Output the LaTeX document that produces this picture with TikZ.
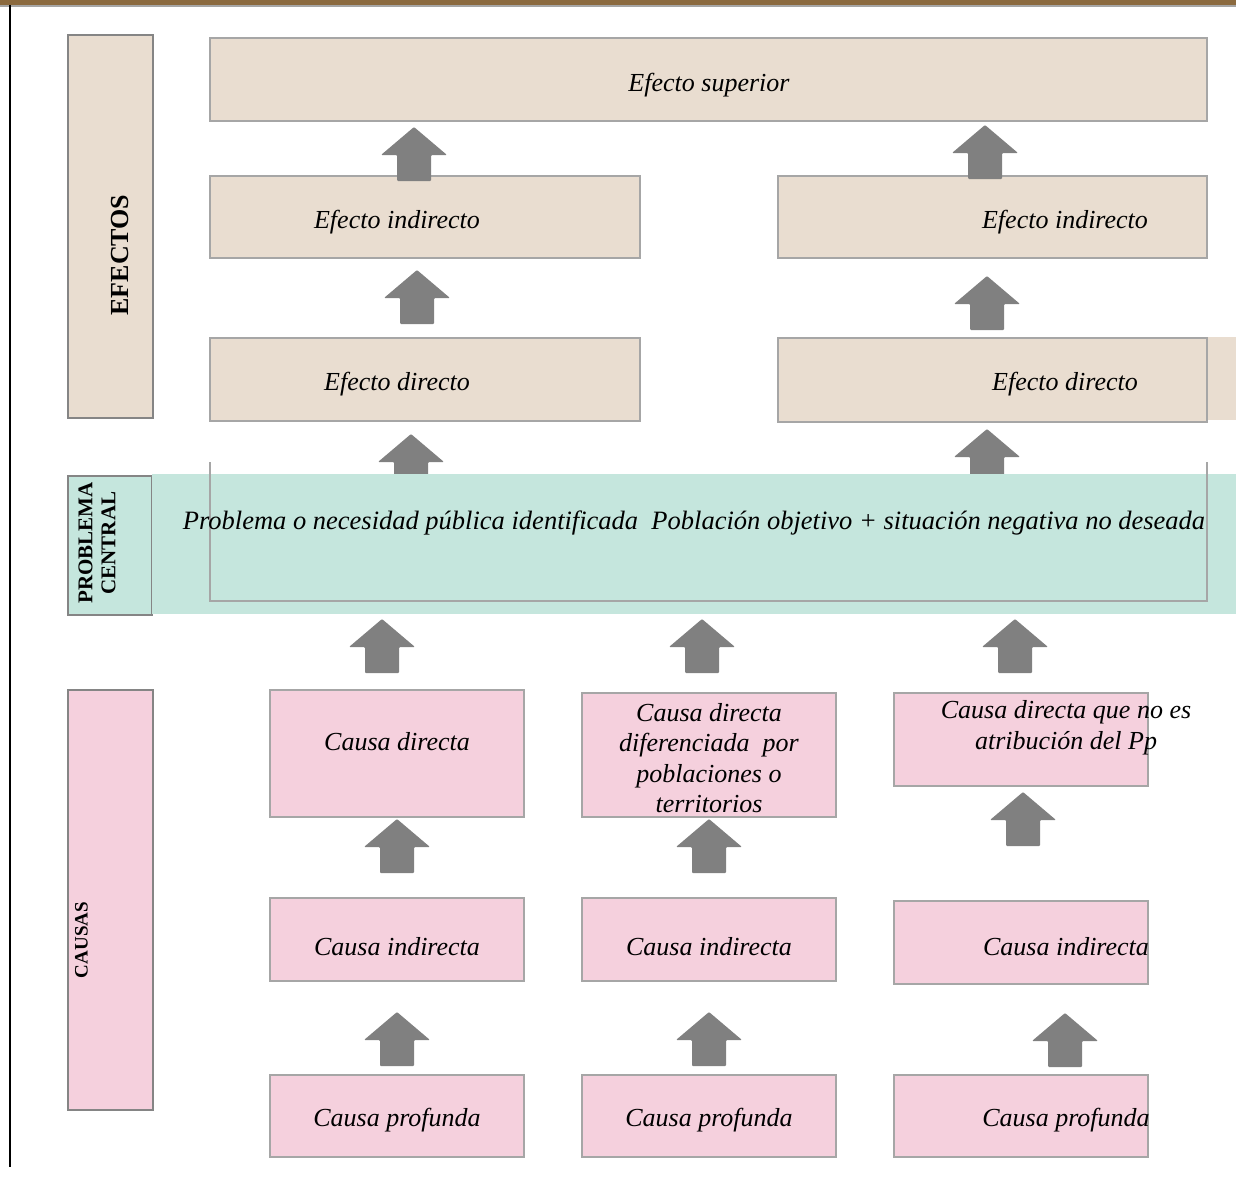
\documentclass[tikz,border=0pt]{standalone}
\usepackage{fontspec}
\setmainfont{Liberation Serif}

\definecolor{effcol}{RGB}{233,221,208}
\definecolor{probcol}{RGB}{197,230,221}
\definecolor{causecol}{RGB}{245,208,221}
\definecolor{edgegray}{RGB}{166,166,166}
\definecolor{arrowgray}{RGB}{128,128,128}
\definecolor{topbrown}{RGB}{139,106,63}

\tikzset{
    effbox/.style={draw=edgegray,line width=0.75pt,fill=effcol},
    causebox/.style={draw=edgegray,line width=0.75pt,fill=causecol},
    sidebox/.style={draw=edgegray!80!black,line width=0.75pt},
    boxtext/.style={font=\fontsize{13}{15.25}\selectfont\itshape,align=center,inner sep=0pt,yshift=-1pt},
    sidetext/.style={font=\bfseries,rotate=90,align=center,inner sep=0pt},
    uparrow/.pic={
        \fill[arrowgray,rounded corners=0.5pt]
            (0,0) -- (33,28) -- (17,28) -- (17,54) -- (-17,54) -- (-17,28) -- (-33,28) -- cycle;
    }
}

\begin{document}
\begin{tikzpicture}[x=0.5pt,y=-0.5pt]
            \useasboundingbox (0,0) rectangle (1236,1177);

            \fill[topbrown] (0,0) rectangle (1236,5.5);
            \fill[black!35] (0,5.5) rectangle (1236,7.5);
            \draw[line width=1pt] (10,5) -- (10,1167);

            % left column labels
            \draw[sidebox,fill=effcol] (68,35) rectangle (153,418);
            \draw[sidebox,fill=probcol] (68,476) rectangle (152,615);
            \draw[sidebox,fill=causecol] (68,690) rectangle (153,1110);

            \node[sidetext,font=\fontsize{13}{15}\selectfont\bfseries] (lefectos) at (120,255) {EFECTOS};
            \node[sidetext,font=\fontsize{10.5}{11.5}\selectfont\bfseries] (lproblema) at (97,543) {PROBLEMA\\CENTRAL};
            \node[sidetext,font=\fontsize{9.5}{11}\selectfont\bfseries] (lcausas) at (81.5,940) {CAUSAS};

            % effects
            \draw[effbox]
                (210,38) rectangle (1207,121)
                (210,176) rectangle (640,258)
                (778,176) rectangle (1207,258)
                (210,338) rectangle (640,421);
            \fill[effcol] (1207,337) rectangle (1236,420);
            \draw[effbox] (778,338) rectangle (1207,422);

            \node[boxtext] (esup) at (709,83) {Efecto superior};
            \node[boxtext] (eind1) at (397,220) {Efecto indirecto};
            \node[boxtext] (eind2) at (1065,220) {Efecto indirecto};
            \node[boxtext] (edir1) at (397,382) {Efecto directo};
            \node[boxtext] (edir2) at (1065,382) {Efecto directo};

            % causes
            \draw[causebox]
                (270,690) rectangle (524,817)
                (582,693) rectangle (836,817)
                (894,693) rectangle (1148,786)
                (270,898) rectangle (524,981)
                (582,898) rectangle (836,981)
                (894,901) rectangle (1148,984)
                (270,1075) rectangle (524,1157)
                (582,1075) rectangle (836,1157)
                (894,1075) rectangle (1148,1157);

            \node[boxtext] (cdir1) at (397,740) {Causa directa};
            \node[boxtext] (cdir2) at (709,756) {Causa directa\\diferenciada\ \ por\\poblaciones o\\territorios};
            \node[boxtext] (cdir3) at (1066,725.5) {Causa directa que no es\\atribución del Pp};
            \node[boxtext] (cind1) at (397,945) {Causa indirecta};
            \node[boxtext] (cind2) at (709,945) {Causa indirecta};
            \node[boxtext] (cind3) at (1066,945) {Causa indirecta};
            \node[boxtext] (cpro1) at (397,1118) {Causa profunda};
            \node[boxtext] (cpro2) at (709,1118) {Causa profunda};
            \node[boxtext] (cpro3) at (1066,1118) {Causa profunda};

            % block arrows
            \pic at (414,127) {uparrow};
            \pic at (985,125) {uparrow};
            \pic at (417,270) {uparrow};
            \pic at (987,276) {uparrow};
            \pic at (411,434) {uparrow};
            \pic at (987,429) {uparrow};
            \pic at (382,619) {uparrow};
            \pic at (702,619) {uparrow};
            \pic at (1015,619) {uparrow};
            \pic at (397,819) {uparrow};
            \pic at (709,819) {uparrow};
            \pic at (1023,792) {uparrow};
            \pic at (397,1012) {uparrow};
            \pic at (709,1012) {uparrow};
            \pic at (1065,1013) {uparrow};

            % central problem band
            \fill[probcol] (152,474) rectangle (1236,614);
            \draw[edgegray,line width=0.75pt]
                (210,462) -- (210,601) -- (1207,601) -- (1207,462);

            \node[boxtext,font=\fontsize{13.25}{15.25}\selectfont\itshape] (problema) at (694,521)
                {Problema o necesidad pública identificada\ \ Población objetivo + situación negativa no deseada};
        \end{tikzpicture}
\end{document}
